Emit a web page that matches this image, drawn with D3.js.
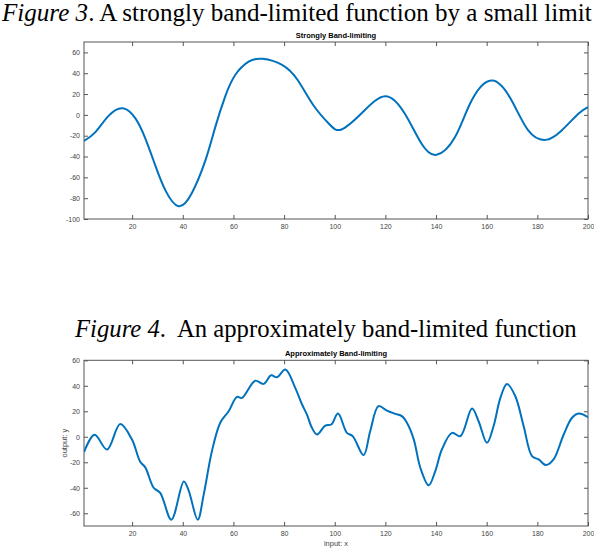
<!DOCTYPE html>
<html><head><meta charset="utf-8">
<script src="https://cdn.jsdelivr.net/npm/d3@7/dist/d3.min.js"></script>
<style>body{margin:0;background:#fff}svg{display:block}</style>
</head><body><svg id="c" width="594" height="550"></svg>
<script>
// ---- data ----
const xTicks = [20, 40, 60, 80, 100, 120, 140, 160, 180, 200];
const strongYTicks = [-100, -80, -60, -40, -20, 0, 20, 40, 60];
const approxYTicks = [-60, -40, -20, 0, 20, 40, 60];

const strongX = [1, 5.5, 10.7, 16.3, 21.3, 25.2, 29.1, 33.1, 38.3, 43.6, 48.9, 52.8, 56.8, 60.7, 66, 71.5, 79.2, 85.5, 91.5, 97.8, 102.7, 110.8, 119.9, 127.7, 134.3, 140.2, 147.5, 154.1, 162.2, 169.8, 176.4, 183.2, 189.6, 196.2, 200];
const strongY = [-25, -16.5, -1, 6.3, -3.4, -22.6, -48.3, -72.3, -87.7, -75, -44, -12, 18, 38.3, 51.1, 53.8, 48, 33, 9.5, -8.8, -14, 2, 18, 1.1, -27.7, -38.3, -21.3, 14, 33, 14, -14.9, -24, -14.9, 1.1, 7.5];

const approxX = [1, 5.2, 10.1, 15.3, 19.9, 23.2, 25.2, 28.5, 31.1, 35.5, 40.4, 42.3, 45.9, 48.3, 51.5, 54.8, 58.1, 61.4, 63.4, 68.6, 71.9, 74.9, 77.2, 80.5, 84.4, 87.1, 89, 91, 93, 96.3, 98.6, 101.3, 104.8, 107.1, 111.4, 114, 117.3, 120.6, 123.9, 126.5, 128.5, 131.2, 133.8, 137.1, 139.7, 142.3, 146.3, 149.6, 154.2, 156.8, 160.1, 162.7, 165.4, 168, 171.3, 174.6, 177.9, 180.5, 183.4, 186.4, 190.4, 193.7, 196.3, 200];
const approxY = [-12, 1.5, -10, 10, -2, -19.6, -24, -40, -44, -65, -35, -42, -65, -45, -11.3, 11, 20, 31.3, 30.5, 44, 41.5, 48.2, 46.7, 52.7, 38.4, 25.3, 17.5, 7, 1.8, 8.8, 9.6, 18.2, 3.1, 0.5, -14.4, 4.4, 24, 20.5, 18, 16.2, 11, -2, -24.3, -38.1, -26.9, -10, 3.1, 0.5, 22.2, 12.2, -4.7, 8.3, 30.5, 41.5, 31.8, 8.3, -15.2, -17.8, -22.2, -17.8, 1.8, 14.9, 18.2, 15.4];

// ---- drawing ----
const svg = d3.select("#c");
const axisColor = "#555";
const labelColor = "#444";
const lineColor = "#0072BD";
const sansFont = "'Liberation Sans', Arial, Helvetica, sans-serif";
const serifFont = "'Liberation Serif', 'Times New Roman', Times, serif";

function caption(x, y, width, italicPart, rest) {
  const t = svg.append("text").attr("x", x).attr("y", y)
    .attr("font-family", serifFont).attr("font-size", 22).attr("fill", "#000")
    .style("white-space", "pre");
  t.append("tspan").attr("font-style", "italic").text(italicPart);
  t.append("tspan").text(rest);
  const w = t.node().getComputedTextLength();
  t.attr("font-size", 22 * width / w);
  return t;
}
caption(2, 21, 590, "Figure 3", ". A strongly band-limited function by a small limit");
caption(75, 337, 502, "Figure 4", ".  An approximately band-limited function");

function panel(opts) {
  const {top, bottom, yDomain, yTicks, xs, ys, title, xlabel, ylabel, curve} = opts;
  const left = 84, right = 588;
  const x = d3.scaleLinear().domain([1, 200]).range([left, right]);
  const y = d3.scaleLinear().domain(yDomain).range([bottom, top]);
  const g = svg.append("g");

  const tick = 4;
  const fmt = d => d < 0 ? "-" + Math.abs(d) : String(d);

  const ax = (sel, axis) => {
    sel.call(axis);
    sel.select(".domain").remove();
    sel.selectAll(".tick line").attr("stroke", axisColor);
    sel.selectAll(".tick text").attr("fill", labelColor)
      .attr("font-family", sansFont).attr("font-size", 7);
  };

  g.append("g").attr("transform", `translate(0,${bottom})`)
    .call(s => ax(s, d3.axisBottom(x).tickValues(xTicks).tickSizeInner(-tick).tickSizeOuter(0).tickPadding(5).tickFormat(fmt)));
  g.append("g").attr("transform", `translate(0,${top})`)
    .call(s => ax(s, d3.axisTop(x).tickValues(xTicks).tickSizeInner(-tick).tickSizeOuter(0).tickFormat("")));
  g.append("g").attr("transform", `translate(${left},0)`)
    .call(s => ax(s, d3.axisLeft(y).tickValues(yTicks).tickSizeInner(-tick).tickSizeOuter(0).tickPadding(4).tickFormat(fmt)));
  g.append("g").attr("transform", `translate(${right},0)`)
    .call(s => ax(s, d3.axisRight(y).tickValues(yTicks).tickSizeInner(-tick).tickSizeOuter(0).tickFormat("")));

  g.append("rect").attr("x", left).attr("y", top)
    .attr("width", right - left).attr("height", bottom - top)
    .attr("fill", "none").attr("stroke", axisColor).attr("stroke-width", 1);

  const pts = xs.map((v, i) => [v, ys[i]]);
  const line = d3.line().x(d => x(d[0])).y(d => y(d[1])).curve(curve);
  g.append("defs").append("clipPath").attr("id", "clip" + Math.round(top))
    .append("rect").attr("x", left).attr("y", top).attr("width", right - left).attr("height", bottom - top);
  g.append("path").datum(pts).attr("d", line)
    .attr("fill", "none").attr("stroke", lineColor).attr("stroke-width", 2)
    .attr("stroke-linejoin", "round").attr("clip-path", `url(#clip${Math.round(top)})`);

  g.append("text").attr("x", (left + right) / 2).attr("y", top - 4.5)
    .attr("text-anchor", "middle").attr("font-family", sansFont)
    .attr("font-size", 7.5).attr("font-weight", "bold").attr("fill", "#000").text(title);

  if (xlabel) {
    g.append("text").attr("x", (left + right) / 2).attr("y", bottom + 19.5)
      .attr("text-anchor", "middle").attr("font-family", sansFont)
      .attr("font-size", 7.5).attr("fill", labelColor).text(xlabel);
  }
  if (ylabel) {
    g.append("text").attr("transform", `translate(66.5,${(top + bottom) / 2}) rotate(-90)`)
      .attr("text-anchor", "middle").attr("font-family", sansFont)
      .attr("font-size", 7.5).attr("fill", labelColor).text(ylabel);
  }
}

panel({top: 42, bottom: 219, yDomain: [-100, 70], yTicks: strongYTicks,
  xs: strongX, ys: strongY, title: "Strongly Band-limiting", curve: d3.curveNatural});
panel({top: 360.3, bottom: 526, yDomain: [-70, 60], yTicks: approxYTicks,
  xs: approxX, ys: approxY, title: "Approximately Band-limiting",
  xlabel: "input: x", ylabel: "output: y", curve: d3.curveCatmullRom.alpha(0.5)});
</script>
</body></html>
